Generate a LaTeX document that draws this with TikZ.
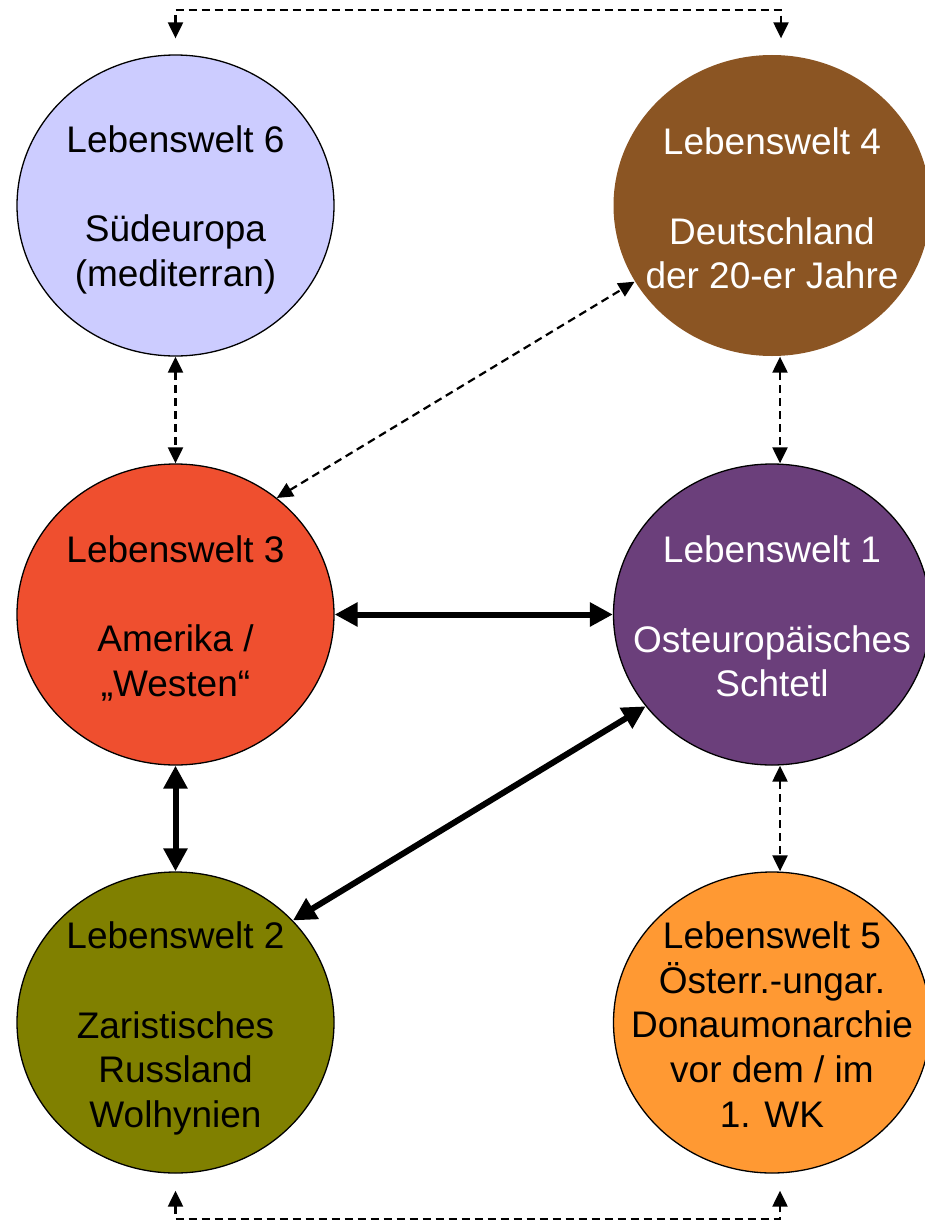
\documentclass[tikz,border=0pt]{standalone}
\usepackage{fontspec}
\setmainfont{Liberation Sans}
\usetikzlibrary{shapes.geometric,arrows.meta}
\definecolor{welt1}{HTML}{6B3F7B}
\definecolor{welt2}{HTML}{808000}
\definecolor{welt3}{HTML}{EF4F2F}
\definecolor{welt4}{HTML}{8B5523}
\definecolor{welt5}{HTML}{FF9933}
\definecolor{welt6}{HTML}{CCCCFF}
\begin{document}
\begin{tikzpicture}[x=1pt,y=-1pt,
welt/.style={ellipse,draw=black,line width=1.3pt,minimum width=317pt,minimum height=301pt,inner sep=0pt},
welttext/.style={align=center,inner sep=0pt,font=\fontsize{37}{44.7}\selectfont},
dlink/.style={{Triangle[length=16pt,width=15pt]}-{Triangle[length=16pt,width=15pt]},line width=2.2pt,dash pattern=on 8pt off 5pt},
blink/.style={{Triangle[length=23pt,width=23pt]}-{Triangle[length=23pt,width=23pt]},line width=6pt}]
\useasboundingbox (0,0) rectangle (924,1223);
\node[welt,fill=welt6] (lw6) at (175.5,205.5) {};
\node[welt,fill=welt4,draw=none] (lw4) at (772,205.5) {};
\node[welt,fill=welt3] (lw3) at (175.5,614.5) {};
\node[welt,fill=welt1] (lw1) at (772,614.5) {};
\node[welt,fill=welt2] (lw2) at (175.5,1022.5) {};
\node[welt,fill=welt5] (lw5) at (772,1022.5) {};
\node[welttext] (lw6text) at ([yshift=-4pt]lw6) {Lebenswelt 6\\[44.7pt]Südeuropa\\(mediterran)};
\node[welttext,text=white] (lw4text) at ([yshift=-3pt]lw4) {Lebenswelt 4\\[44.7pt]Deutschland\\der 20-er Jahre};
\node[welttext] (lw3text) at ([yshift=-4pt]lw3) {Lebenswelt 3\\[44.7pt]Amerika /\\„Westen“};
\node[welttext,text=white] (lw1text) at ([yshift=-2pt]lw1) {Lebenswelt 1\\[44.7pt]Osteuropäisches\\Schtetl};
\node[welttext] (lw2text) at ([yshift=-6pt]lw2) {Lebenswelt 2\\[44.7pt]Zaristisches\\Russland\\Wolhynien};
\node[welttext] (lw5text) at ([yshift=-2pt]lw5) {Lebenswelt 5\\Österr.-ungar.\\Donaumonarchie\\vor dem / im\\1. WK};
\coordinate (topbar) at (478,10);
\coordinate (bottombar) at (478,1219);
\draw[dlink] ([yshift=16pt]lw6.north) |- (topbar) -| ([xshift=9pt,yshift=16pt]lw4.north);
\draw[dlink] ([yshift=-17pt]lw2.south) |- (bottombar) -| ([xshift=8pt,yshift=-17pt]lw5.south);
\draw[dlink] (lw6.south) -- (lw3.north);
\draw[dlink] ([xshift=8pt]lw4.south) -- ([xshift=8pt]lw1.north);
\draw[dlink] ([xshift=8pt]lw1.south) -- ([xshift=8pt]lw5.north);
\draw[dlink] (lw3.49) -- (lw4.209);
\draw[blink] (lw3) -- (lw1);
\draw[blink] (lw3.south) -- (lw2.north);
\draw[blink] (lw2.41) -- (lw1.216);
\end{tikzpicture}
\end{document}
